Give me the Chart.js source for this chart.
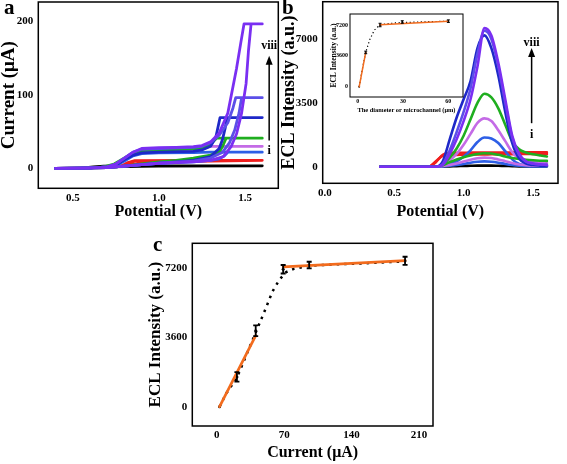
<!DOCTYPE html>
<html>
<head>
<meta charset="utf-8" />
<title>ECL microchannel</title>
<script src="https://cdn.jsdelivr.net/npm/chart.js"></script>
<style>
  body { margin: 0; background: #fff; }
  #wrap { position: relative; width: 567px; height: 464px; background: #fff; overflow: hidden; }
  #wrap canvas { position: absolute; }
  .tag { position: absolute; font: bold 21px 'Liberation Serif', serif; line-height: 21px; }
</style>
</head>
<body>
<div id="wrap">
  <canvas id="chartA" width="280" height="222" style="left:0;top:0"></canvas>
  <canvas id="chartB" width="287" height="222" style="left:280px;top:0"></canvas>
  <canvas id="chartIn" width="155" height="112" style="left:330px;top:5px"></canvas>
  <canvas id="chartC" width="295" height="242" style="left:145px;top:222px"></canvas>
  <div class="tag" style="left:4px;top:-3px">a</div>
  <div class="tag" style="left:282px;top:-3px">b</div>
  <div class="tag" style="left:153px;top:234px">c</div>
</div>
<script>
// ---- panel a: current vs potential, loops i..viii as [V, µA]
const aCurveI = [[0.4,0],[0.55,0.5],[0.62,2],[0.68,3],[1.0,3.3],[1.6,3.5],[1.0,3],[0.7,2],[0.55,0.3],[0.4,0]];
const aCurveII = [[0.4,0],[0.7,1],[0.78,3],[0.82,8],[0.86,10.5],[1.2,11],[1.6,11],[1.2,9.5],[0.95,8.5],[0.85,6],[0.75,2],[0.6,0.5],[0.4,0]];
const aCurveIII = [[0.4,0],[0.6,0.5],[0.7,2],[0.76,5],[0.8,10],[0.85,17],[0.9,20],[1.0,21],[1.2,21.5],[1.3,22],[1.6,22],[1.4,22],[1.38,17],[1.35,13],[1.3,11],[1.2,9],[1.0,7],[0.9,5],[0.8,3],[0.7,1],[0.4,0]];
const aCurveIV = [[0.4,0],[0.6,0.5],[0.7,2],[0.75,6],[0.8,13],[0.85,20],[0.9,23],[1.0,24],[1.2,25.5],[1.25,27],[1.3,30],[1.6,30],[1.36,30],[1.34,22],[1.3,15],[1.2,11],[1.0,8],[0.9,5],[0.8,3],[0.7,1],[0.4,0]];
const aCurveV = [[0.4,0],[0.6,0.5],[0.68,2],[0.74,6],[0.8,14],[0.85,21],[0.9,24],[1.0,25],[1.2,26.5],[1.25,28],[1.3,33],[1.335,41],[1.6,41],[1.39,41],[1.37,30],[1.35,22],[1.3,18],[1.2,14],[1.1,11],[1.0,9],[0.9,6],[0.8,3],[0.7,1],[0.4,0]];
const aCurveVI = [[0.4,0],[0.6,0.5],[0.7,2],[0.76,6],[0.8,12],[0.85,18],[0.9,21],[1.0,22],[1.2,23],[1.25,25],[1.3,30],[1.33,42],[1.355,69],[1.6,69],[1.395,69],[1.385,55],[1.37,40],[1.35,27],[1.3,16],[1.2,11],[1.1,9],[1.0,7],[0.9,5],[0.8,3],[0.7,1],[0.4,0]];
const aCurveVII = [[0.4,0],[0.6,0.5],[0.7,2],[0.75,6],[0.8,14],[0.85,22],[0.9,26],[1.0,27],[1.2,28.5],[1.25,30],[1.3,35],[1.35,45],[1.4,62],[1.43,82],[1.446,96],[1.6,96],[1.48,96],[1.465,75],[1.44,52],[1.41,35],[1.37,22],[1.3,14],[1.2,10],[1.0,7],[0.9,5],[0.8,3],[0.7,1],[0.4,0]];
const aCurveVIII = [[0.4,0],[0.6,0.5],[0.7,2],[0.75,6],[0.8,14],[0.85,22],[0.9,27],[1.0,28],[1.1,28.5],[1.2,29.5],[1.25,31],[1.3,36],[1.35,48],[1.4,75],[1.45,135],[1.475,170],[1.494,196],[1.6,196],[1.535,196],[1.52,160],[1.506,115],[1.48,75],[1.451,47],[1.42,30],[1.374,16],[1.3,11],[1.2,9],[1.0,7],[0.9,5],[0.8,3],[0.7,1],[0.4,0]];
const aXTicks = [0.5, 1.0, 1.5];
const aYTicks = [0, 100, 200];

// ---- panel b: ECL intensity vs potential
const bPotential = [0.4,0.75,0.8,0.85,0.9,0.95,1.0,1.05,1.1,1.15,1.2,1.25,1.3,1.35,1.4,1.45,1.5,1.55,1.6];
const bCurveI    = [0,0,0,10,20,30,40,50,60,60,60,50,40,30,20,20,20,20,20];
const bCurveII   = [0,0,300,600,650,650,660,660,670,670,680,680,680,690,690,700,700,700,700];
const bCurveIIb  = [0,0,250,650,760,760,760,770,770,770,780,780,780,780,790,790,790,790,790];
const bCurveIIIb = [0,0,0,20,60,100,150,220,270,290,270,220,150,90,50,30,20,20,20];
const bCurveIII  = [0,0,0,50,150,300,550,900,1350,1600,1550,1300,850,400,150,80,50,50,50];
const bCurveIVb  = [0,0,0,40,100,180,280,380,460,500,480,400,300,200,120,80,60,50,50];
const bCurveIV   = [0,0,0,100,350,700,1200,1800,2400,2650,2500,2000,1400,800,450,300,250,220,200];
const bCurveVb   = [0,0,0,80,250,400,520,620,700,740,720,650,560,480,420,380,350,330,320];
const bCurveV    = [0,0,0,150,500,1000,1700,2600,3500,4000,3800,3200,2300,1400,950,780,680,620,560];
const bCurveVI   = [0,0,0,300,1500,2700,3700,4700,6500,7200,6500,5000,3000,1300,450,170,90,60,50];
const bCurveVII  = [0,0,0,150,900,1900,3000,4300,6200,7450,7000,5500,3500,1600,650,270,160,120,100];
const bCurveVIII = [0,0,0,100,700,1500,2500,3700,5500,7600,7200,5700,3700,1700,700,300,180,130,100];
const bXTicks = [0.0, 0.5, 1.0, 1.5];
const bYTicks = [0, 3500, 7000];

// ---- inset: ECL intensity vs microchannel diameter
const inDiameter = [1, 5.3, 14.8, 29.5, 60];
const inEcl      = [0, 4000, 7200, 7550, 7650];
const inErr      = [0, 150, 200, 150, 150];
const inFitLow   = [[1,0],[5.3,4000]];
const inFitHigh  = [[14.8,7220],[60,7650]];
const inTrend    = [[1,0],[3,2000],[5.3,4000],[8,5500],[11,6600],[14,7100],[18,7300],[25,7450],[40,7550],[60,7650]];
const inXTicks = [0, 30, 60];
const inYTicks = [0, 3600, 7200];

// ---- panel c: ECL intensity vs current
const cCurrent = [3, 21, 40.5, 69, 96, 195.5];
const cEcl     = [0, 1550, 3950, 7150, 7370, 7590];
const cErr     = [0, 250, 280, 220, 170, 210];
const cFitLow  = [[3,0],[40.5,3700]];
const cFitHigh = [[69,7270],[195.5,7600]];
const cTrend   = [[3,0],[10,700],[21,1500],[30,2600],[40,3800],[50,5000],[58,6000],[65,6600],[72,7000],[80,7170],[96,7330],[120,7400],[150,7450],[195,7560]];
const cXTicks = [0, 70, 140, 210];
const cYTicks = [0, 3600, 7200];

const SERIF = "'Liberation Serif', 'Times New Roman', serif";
const pts = arr => arr.map(p => ({x: p[0], y: p[1]}));
const zip = (xs, ys) => xs.map((x, i) => ({x: x, y: ys[i]}));

const boxPlugin = {
  id: 'box',
  afterDraw(chart, args, opts) {
    const {ctx, chartArea: a} = chart;
    ctx.save();
    ctx.strokeStyle = '#000';
    ctx.lineWidth = opts.width || 1.5;
    ctx.strokeRect(a.left, a.top, a.right - a.left, a.bottom - a.top);
    ctx.restore();
  }
};

const errorBars = {
  id: 'errorBars',
  afterDatasetsDraw(chart) {
    const {ctx, scales: {x, y}} = chart;
    chart.data.datasets.forEach(ds => {
      if (!ds.errors) return;
      ctx.save();
      ctx.strokeStyle = '#000';
      ctx.lineWidth = ds.errWidth || 1.5;
      const c = ds.capHalf || 2.5;
      ds.data.forEach((p, i) => {
        const e = ds.errors[i];
        if (!e) return;
        const px = x.getPixelForValue(p.x);
        const t = y.getPixelForValue(p.y + e), b = y.getPixelForValue(p.y - e);
        ctx.beginPath();
        ctx.moveTo(px, t); ctx.lineTo(px, b);
        ctx.moveTo(px - c, t); ctx.lineTo(px + c, t);
        ctx.moveTo(px - c, b); ctx.lineTo(px + c, b);
        ctx.stroke();
      });
      ctx.restore();
    });
  }
};

const arrowNote = {
  id: 'arrowNote',
  afterDatasetsDraw(chart, args, o) {
    if (!o || o.x === undefined) return;
    const {ctx, scales: {x, y}} = chart;
    const px = x.getPixelForValue(o.x), y0 = y.getPixelForValue(o.from), y1 = y.getPixelForValue(o.to);
    ctx.save();
    ctx.strokeStyle = ctx.fillStyle = '#000';
    ctx.lineWidth = 1.5;
    ctx.beginPath(); ctx.moveTo(px, y0); ctx.lineTo(px, y1 + 6); ctx.stroke();
    ctx.beginPath(); ctx.moveTo(px, y1); ctx.lineTo(px - 3.5, y1 + 9); ctx.lineTo(px + 3.5, y1 + 9); ctx.closePath(); ctx.fill();
    ctx.font = 'bold 12px ' + SERIF;
    ctx.textAlign = 'center'; ctx.textBaseline = 'middle';
    ctx.fillText(o.top, px, y.getPixelForValue(o.topAt));
    ctx.fillText(o.bottom, px, y.getPixelForValue(o.bottomAt));
    ctx.restore();
  }
};

// scale builder: fixed box sizes so the plot area sits where the figure has it
function axis(min, max, tickVals, tickSize, tickPad, title, titleSize, titlePad, fit) {
  return {
    type: 'linear', min: min, max: max,
    afterBuildTicks: s => { s.ticks = tickVals.map(v => ({value: v})); },
    afterFit: s => {
      fit(s);
      s.paddingTop = s.paddingBottom = s.paddingLeft = s.paddingRight = 0;
    },
    ticks: { color: '#000', padding: tickPad, font: {family: SERIF, size: tickSize, weight: 'bold'},
             callback: v => (tickVals.some(t => t % 1) ? v.toFixed(1) : v) },
    grid: { display: false, drawTicks: false, tickLength: 0 },
    border: { display: false },
    title: { display: true, text: title, color: '#000', padding: titlePad,
             font: {family: SERIF, size: titleSize, weight: 'bold', lineHeight: 1} }
  };
}

function line(data, color, width, extra) {
  return Object.assign({data: data, borderColor: color, backgroundColor: color, borderWidth: width,
    pointRadius: 0, showLine: true, fill: false, tension: 0, borderJoinStyle: 'round', borderCapStyle: 'round'}, extra || {});
}

// first dataset in the list ends up drawn on top
function build(id, w, h, L, R, T, B, scales, datasets, pluginOpts, boxWidth) {
  new Chart(document.getElementById(id), {
    type: 'scatter',
    data: { datasets: datasets },
    options: {
      responsive: false, animation: false, events: [],
      layout: { padding: {top: T, right: w - R, left: 0, bottom: 0} },
      scales: {
        x: Object.assign(scales.x, {position: 'bottom'}),
        y: Object.assign(scales.y, {position: 'left'})
      },
      plugins: Object.assign({ legend: {display: false}, tooltip: {enabled: false}, box: {width: boxWidth} }, pluginOpts)
    },
    plugins: [boxPlugin, errorBars, arrowNote]
  });
}

// panel a
build('chartA', 280, 222, 38.3, 278.3, 2, 188.3, {
  x: axis(0.3, 1.693, aXTicks, 11, 3, 'Potential (V)', 16, {top: 0, bottom: 2}, s => { s.height = 222 - 188.3; }),
  y: axis(-27, 225.8, aYTicks, 11, 5, 'Current (\u03bcA)', 19, {top: 0, bottom: 0}, s => { s.width = 38.3; })
}, [
  line(pts(aCurveVIII), '#7a2ff2', 2.8),
  line(pts(aCurveVII), '#5b4fe8', 2.8),
  line(pts(aCurveVI), '#1e28c8', 2.8),
  line(pts(aCurveV), '#1fae1f', 2.8),
  line(pts(aCurveIV), '#c46be6', 2.8),
  line(pts(aCurveIII), '#2e5fe6', 2.8),
  line(pts(aCurveII), '#f01e1e', 2.8),
  line(pts(aCurveI), '#000000', 2.8)
], { arrowNote: {x: 1.64, from: 38, to: 153, top: 'viii', topAt: 166, bottom: 'i', bottomAt: 23.5} }, 1.5);

// panel b
const mono = {cubicInterpolationMode: 'monotone'};
build('chartB', 287, 222, 42.7, 278, 1.7, 183.3, {
  x: axis(-0.015, 1.68, bXTicks, 11, 3, 'Potential (V)', 16, {top: 0, bottom: 2}, s => { s.height = 222 - 183.3; }),
  y: axis(-910, 9046, bYTicks, 11, 5, 'ECL Intensity (a.u.)', 18, {top: 0, bottom: 0}, s => { s.width = 42.7; })
}, [
  line(zip(bPotential, bCurveVIII), '#7a2ff2', 2.6, mono),
  line(zip(bPotential, bCurveVII), '#5b4fe8', 2.6, mono),
  line(zip(bPotential, bCurveVI), '#1e28c8', 2.6, mono),
  line(zip(bPotential, bCurveV), '#1fae1f', 2.6, mono),
  line(zip(bPotential, bCurveVb), '#1fae1f', 2.6, mono),
  line(zip(bPotential, bCurveIV), '#c46be6', 2.6, mono),
  line(zip(bPotential, bCurveIVb), '#c46be6', 2.6, mono),
  line(zip(bPotential, bCurveIII), '#2e5fe6', 2.6, mono),
  line(zip(bPotential, bCurveIIIb), '#2e5fe6', 2.6, mono),
  line(zip(bPotential, bCurveIIb), '#f01e1e', 2.6, mono),
  line(zip(bPotential, bCurveII), '#f01e1e', 2.6, mono),
  line(zip(bPotential, bCurveI), '#000000', 2.6, mono)
], { arrowNote: {x: 1.49, from: 2385, to: 6505, top: 'viii', topAt: 6800, bottom: 'i', bottomAt: 1740} }, 1.5);

// inset of b
build('chartIn', 155, 112, 20, 133, 9, 92, {
  x: axis(-5.1, 69.7, inXTicks, 6, 1, 'The diameter or microchannel (\u03bcm)', 6.4, {top: 0, bottom: 3}, s => { s.height = 112 - 92; }),
  y: axis(-1200, 8484, inYTicks, 6, 2, 'ECL Intensity (a.u.)', 7.5, {top: 0, bottom: 0}, s => { s.width = 20; })
}, [
  line(pts(inFitLow), '#f26b1d', 1.5),
  line(pts(inFitHigh), '#f26b1d', 1.5),
  line(pts(inTrend), '#000000', 1.2, {borderDash: [1.2, 2.5], borderCapStyle: 'butt'}),
  line(zip(inDiameter, inEcl), '#000000', 0, {showLine: false, pointRadius: 1, errors: inErr, errWidth: 1, capHalf: 1.5})
], {}, 1);

// panel c
build('chartC', 295, 242, 47.3, 288, 21.3, 204, {
  x: axis(-25.3, 224.5, cXTicks, 11, 3, 'Current (\u03bcA)', 16, {top: 0, bottom: 3}, s => { s.height = 242 - 204; }),
  y: axis(-1004, 8500, cYTicks, 11, 5, 'ECL Intensity (a.u.)', 17, {top: 2.5, bottom: 0}, s => { s.width = 47.3; })
}, [
  line(pts(cFitLow), '#f26b1d', 2.7),
  line(pts(cFitHigh), '#f26b1d', 2.7),
  line(pts(cTrend), '#000000', 2.5, {borderDash: [2.5, 5], borderCapStyle: 'butt'}),
  line(zip(cCurrent, cEcl), '#000000', 0, {showLine: false, pointRadius: 1.5, errors: cErr, errWidth: 1.8, capHalf: 2.5})
], {}, 1.5);
</script>
</body>
</html>
